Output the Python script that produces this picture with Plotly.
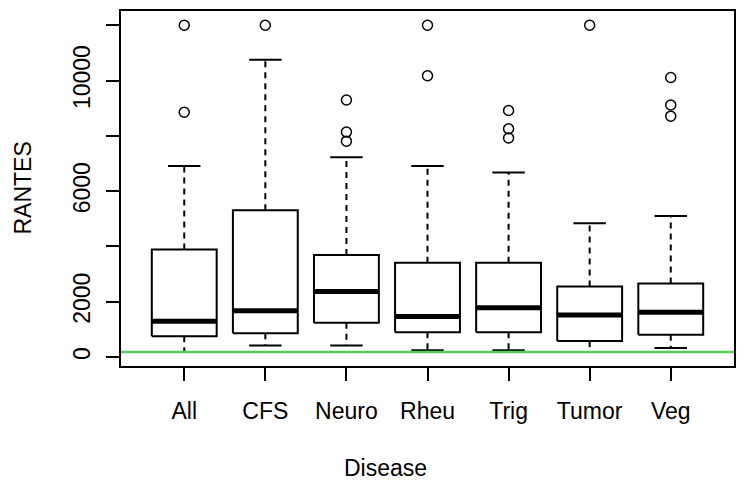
import plotly.graph_objects as go

categories = ["All", "CFS", "Neuro", "Rheu", "Trig", "Tumor", "Veg"]
lower_whisker = [180, 420, 420, 240, 240, 180, 323]
q1 = [754, 862, 1235, 897, 897, 574, 804]
median = [1292, 1676, 2369, 1461, 1784, 1522, 1615]
q3 = [3890, 5312, 3686, 3410, 3410, 2548, 2656]
upper_whisker = [6905, 10756, 7228, 6905, 6676, 4834, 5096]
outliers = [
    [12000, 8854],
    [12000],
    [9296, 8136, 7802],
    [12000, 10171],
    [8915, 8255, 7921],
    [12000],
    [10110, 9116, 8710],
]
reference_line = 180
y_ticks = [0, 2000, 4000, 6000, 8000, 10000, 12000]
y_tick_labels = ["0", "2000", "", "6000", "", "10000", ""]

FONT = "Liberation Sans, Arial, sans-serif"
FS = 23
BOX_HALF = 0.4
CAP_HALF = 0.2

fig = go.Figure()
for i, cat in enumerate(categories):
    x = i + 1
    # box
    fig.add_trace(go.Scatter(
        x=[x - BOX_HALF, x + BOX_HALF, x + BOX_HALF, x - BOX_HALF, x - BOX_HALF],
        y=[q1[i], q1[i], q3[i], q3[i], q1[i]],
        mode="lines", line=dict(color="black", width=2), hoverinfo="skip"))
    # median
    fig.add_trace(go.Scatter(
        x=[x - BOX_HALF, x + BOX_HALF], y=[median[i], median[i]],
        mode="lines", line=dict(color="black", width=5), hoverinfo="skip"))
    # whiskers (dashed)
    fig.add_trace(go.Scatter(
        x=[x, x, None, x, x],
        y=[q3[i], upper_whisker[i], None, q1[i], lower_whisker[i]],
        mode="lines", line=dict(color="black", width=2, dash="6px,5px"),
        hoverinfo="skip"))
    # caps
    fig.add_trace(go.Scatter(
        x=[x - CAP_HALF, x + CAP_HALF, None, x - CAP_HALF, x + CAP_HALF],
        y=[upper_whisker[i], upper_whisker[i], None, lower_whisker[i], lower_whisker[i]],
        mode="lines", line=dict(color="black", width=2), hoverinfo="skip"))
    # outliers
    fig.add_trace(go.Scatter(
        x=[x] * len(outliers[i]), y=outliers[i], mode="markers",
        marker=dict(symbol="circle-open", size=10, color="black",
                    line=dict(width=1.5, color="black")),
        hoverinfo="skip"))

fig.add_shape(type="line", xref="paper", x0=0, x1=1, yref="y",
              y0=reference_line, y1=reference_line,
              line=dict(color="#55cc55", width=2.5), layer="above")

fig.update_layout(
    width=750, height=499,
    margin=dict(l=113, r=24, t=1, b=141),
    paper_bgcolor="white", plot_bgcolor="white",
    showlegend=False,
    font=dict(family=FONT, size=FS, color="black"),
    xaxis=dict(range=[0.22, 7.78], tickmode="array",
               tickvals=list(range(1, len(categories) + 1)), ticktext=categories,
               showgrid=False, zeroline=False, showline=True, mirror=True,
               linecolor="black", linewidth=2, ticks="outside", ticklen=13,
               tickwidth=2, tickcolor="black", ticklabelstandoff=10,
               tickfont=dict(family=FONT, size=FS, color="black")),
    yaxis=dict(range=[-326, 12515], tickmode="array", tickvals=y_ticks,
               ticktext=y_tick_labels, tickangle=-90,
               showgrid=False, zeroline=False, showline=True, mirror=True,
               linecolor="black", linewidth=2, ticks="outside", ticklen=13,
               tickwidth=2, tickcolor="black", ticklabelstandoff=7,
               tickfont=dict(family=FONT, size=FS, color="black")),
    annotations=[
        dict(text="Disease", xref="paper", yref="paper", x=0.4307, y=-0.288,
             xanchor="center", yanchor="middle", showarrow=False,
             font=dict(family=FONT, size=FS, color="black")),
        dict(text="RANTES", xref="paper", yref="paper", x=-0.1615, y=0.50,
             xanchor="center", yanchor="middle", showarrow=False, textangle=-90,
             font=dict(family=FONT, size=FS, color="black")),
    ],
)

fig.write_html("out.html")
